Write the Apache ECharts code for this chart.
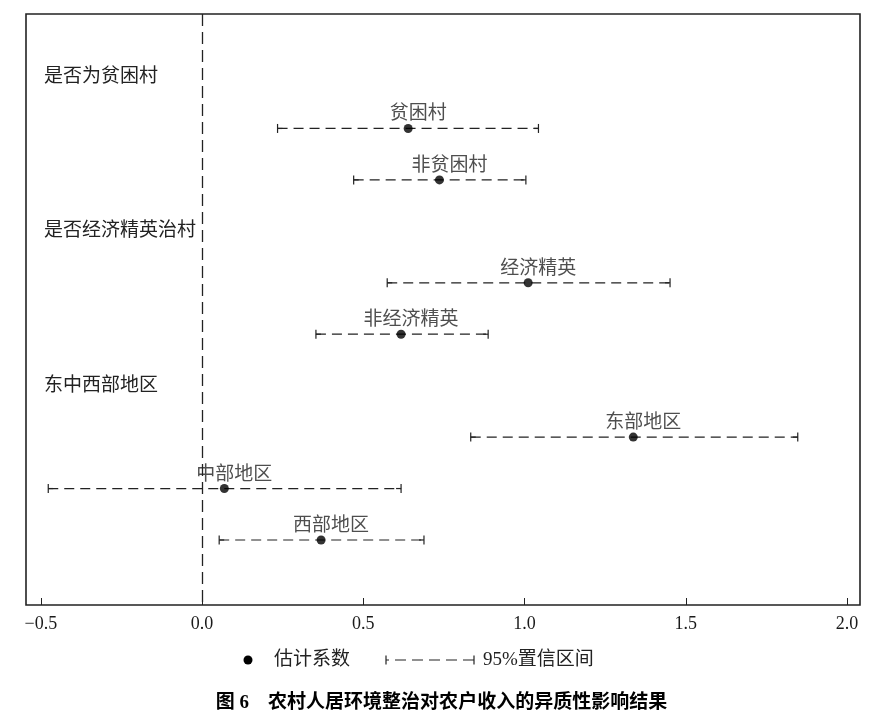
<!DOCTYPE html>
<html>
<head>
<meta charset="utf-8">
<script src="https://cdn.jsdelivr.net/npm/echarts@6/dist/echarts.min.js"></script>
<style>html,body{margin:0;padding:0;background:#fff}#c{width:883px;height:723px}</style>
</head>
<body>
<div id="c"></div>
<script>
// ---- data ----
const categories = ['贫困村', '非贫困村', '经济精英', '非经济精英', '东部地区', '中部地区', '西部地区'];
const rowIndex = [1, 2, 4, 5, 7, 8, 9];
const estimates = [0.639, 0.736, 1.011, 0.617, 1.337, 0.069, 0.369];
const lower = [0.234, 0.470, 0.574, 0.353, 0.833, -0.477, 0.053];
const upper = [1.043, 1.004, 1.451, 0.887, 1.847, 0.617, 0.688];
const groupLabels = ['是否为贫困村', '是否经济精英治村', '东中西部地区'];
const groupRows = [0, 3, 6];
const xTicks = [-0.5, 0, 0.5, 1.0, 1.5, 2.0];
const legendNames = ['估计系数', '95%置信区间'];
const titleText = '农村人居环境整治对农户收入的异质性影响结果';

const FONT = "'Liberation Serif','Noto Sans CJK SC'";
const INK = '#1a1a1a';

const pointData = categories.map((c, i) => ({ name: c, value: [estimates[i], rowIndex[i]] }));
const barData = categories.map((c, i) => [lower[i], upper[i], rowIndex[i]]);

const chart = echarts.init(document.getElementById('c'), null, { renderer: 'canvas' });
chart.setOption({
  backgroundColor: '#fff',
  animation: false,
  textStyle: { fontFamily: FONT },
  grid: { left: 26, right: 23, top: 14, bottom: 118, show: true, borderColor: '#222', borderWidth: 1.6, backgroundColor: 'transparent' },
  xAxis: {
    type: 'value', min: -0.546, max: 2.04, position: 'bottom',
    splitLine: { show: false },
    axisLine: { show: false, onZero: false },
    axisTick: { show: true, inside: true, length: 7, customValues: xTicks, lineStyle: { color: '#222', width: 1 } },
    axisLabel: {
      customValues: xTicks, margin: 10, fontSize: 18, color: INK, fontFamily: FONT,
      formatter: v => (v < 0 ? '\u2212' : '') + Math.abs(v).toFixed(1)
    }
  },
  yAxis: {
    type: 'value', inverse: true, min: -1.225, max: 10.264,
    splitLine: { show: false },
    axisLine: { show: false, onZero: false },
    axisTick: { show: false },
    axisLabel: {
      inside: true, margin: 18, fontSize: 19, color: '#222', fontFamily: FONT,
      padding: [5, 0, 0, 0],
      customValues: groupRows,
      formatter: v => { const k = groupRows.indexOf(Math.round(v)); return k >= 0 ? groupLabels[k] : ''; }
    }
  },
  series: [
    {
      type: 'custom', name: legendNames[1], data: barData, z: 2,
      encode: { x: [0, 1], y: 2 },
      renderItem: function (params, api) {
        const p1 = api.coord([api.value(0), api.value(2)]);
        const p2 = api.coord([api.value(1), api.value(2)]);
        const st = { stroke: '#222', lineWidth: 1.2 };
        return {
          type: 'group', children: [
            { type: 'line', shape: { x1: p1[0], y1: p1[1], x2: p2[0], y2: p2[1] }, style: { stroke: '#222', lineWidth: 1.2, lineDash: [10, 6] } },
            { type: 'line', shape: { x1: p1[0], y1: p1[1] - 4.5, x2: p1[0], y2: p1[1] + 4.5 }, style: st },
            { type: 'line', shape: { x1: p1[0], y1: p1[1], x2: p1[0] + 5, y2: p1[1] }, style: st },
            { type: 'line', shape: { x1: p2[0], y1: p2[1] - 4.5, x2: p2[0], y2: p2[1] + 4.5 }, style: st },
            { type: 'line', shape: { x1: p2[0] - 5, y1: p2[1], x2: p2[0], y2: p2[1] }, style: st }
          ]
        };
      }
    },
    {
      type: 'scatter', name: legendNames[0], data: pointData, z: 5,
      symbol: 'circle', symbolSize: 9,
      itemStyle: { color: '#000' },
      label: {
        show: true, position: 'top', distance: 0, offset: [10, 0],
        formatter: p => p.name, fontSize: 19, color: '#222', fontFamily: FONT
      },
      markLine: {
        silent: true, symbol: 'none', label: { show: false },
        lineStyle: { color: '#222', width: 1.3, type: [12, 6] },
        data: [{ xAxis: 0 }]
      }
    }
  ],
  graphic: [
    { type: 'circle', shape: { cx: 248, cy: 660, r: 4.5 }, style: { fill: '#000' } },
    { type: 'text', left: 274, top: 651, style: { text: legendNames[0], font: "19px " + FONT, fill: '#222' } },
    { type: 'line', shape: { x1: 386, y1: 655.5, x2: 386, y2: 664.5 }, style: { stroke: '#222', lineWidth: 1.2 } },
    { type: 'line', shape: { x1: 386, y1: 660, x2: 474, y2: 660 }, style: { stroke: '#222', lineWidth: 1.2, lineDash: [3, 6, 11, 6, 11, 6, 11, 6, 11, 6, 11, 100] } },
    { type: 'line', shape: { x1: 474, y1: 655.5, x2: 474, y2: 664.5 }, style: { stroke: '#222', lineWidth: 1.2 } },
    { type: 'text', left: 483, top: 651, style: { text: legendNames[1], font: "19px " + FONT, fill: '#222' } },
    {
      type: 'text', left: 'center', top: 694,
      style: {
        text: '{a|图 6}　{b|' + titleText + '}',
        rich: {
          a: { fontFamily: FONT, fontSize: 19, fontWeight: 'bold', fill: '#000', color: '#000' },
          b: { fontFamily: FONT, fontSize: 19, fontWeight: 'bold', fill: '#000', color: '#000' }
        },
        font: "bold 19px " + FONT, fill: '#000'
      }
    }
  ]
});
</script>
</body>
</html>
